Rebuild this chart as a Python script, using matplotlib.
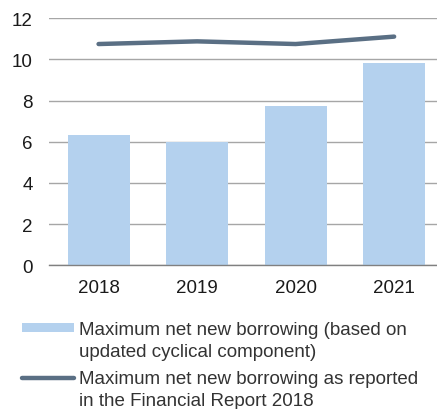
import matplotlib
matplotlib.use("Agg")
import matplotlib.pyplot as plt
from matplotlib.patches import Rectangle
from matplotlib.lines import Line2D

plt.rcParams['font.family'] = ['Liberation Sans', 'DejaVu Sans']

years = ["2018", "2019", "2020", "2021"]
bar_values = [6.32, 5.98, 7.74, 9.83]
line_values = [10.75, 10.88, 10.75, 11.11]
yticks = [0, 2, 4, 6, 8, 10, 12]
bar_label = "Maximum net new borrowing (based on\nupdated cyclical component)"
line_label = "Maximum net new borrowing as reported\nin the Financial Report 2018"

bar_color = "#b4d1ee"
line_color = "#5a6f84"
text_color = "#1a1a1a"
W, H = 437, 410

fig = plt.figure(figsize=(W / 100, H / 100), dpi=100)
ax = fig.add_axes([49.3 / W, 1 - 266.3 / H, 1 - 49.3 / W, (266.3 - 19.3) / H])

x = list(range(len(years)))
ax.bar(x, bar_values, width=0.63, color=bar_color, zorder=2)
ax.plot(x, line_values, color=line_color, linewidth=3.2, solid_capstyle='round', zorder=3)

ax.set_xlim(-0.5, 3.435)
ax.set_ylim(0, 12)
ax.set_yticks(yticks)
ax.set_xticks(x)
ax.set_xticklabels(years)
ax.yaxis.grid(True, color="#a6a6a6", linewidth=1.0, zorder=0)
ax.set_axisbelow(True)
for s in ["top", "right", "left"]:
    ax.spines[s].set_visible(False)
ax.spines["bottom"].set_color("#808080")
ax.spines["bottom"].set_linewidth(1.0)
ax.tick_params(axis='both', length=0, labelsize=13.5, colors=text_color)
ax.tick_params(axis='x', pad=10)
ax.tick_params(axis='y', pad=12)

# Legend (drawn manually for exact layout)
def fx(px):
    return px / W

def fy(px):
    return 1 - px / H

fig.add_artist(Rectangle((fx(22), fy(332.7)), fx(73.7) - fx(22), fy(324) - fy(332.7),
                         transform=fig.transFigure, facecolor=bar_color, edgecolor='none'))
fig.add_artist(Line2D([fx(21.5), fx(74)], [fy(379), fy(379)], transform=fig.transFigure,
                      color=line_color, linewidth=3.2, solid_capstyle='round'))

for label, base in [(bar_label, 335.0), (line_label, 384.3)]:
    for i, line in enumerate(label.split("\n")):
        fig.text(fx(78.7), fy(base + i * 21.7), line, fontsize=13.5,
                 color="#333333", va='baseline', ha='left')

fig.savefig("out.png", dpi=100)
